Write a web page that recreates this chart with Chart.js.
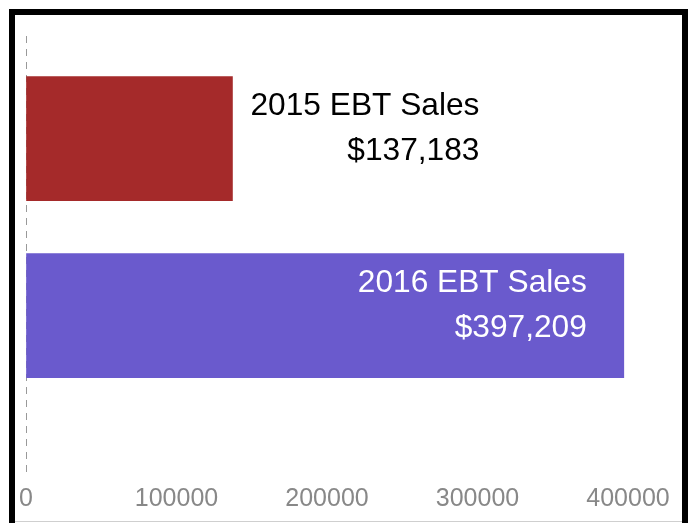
<!DOCTYPE html>
<html>
<head>
<meta charset="utf-8">
<script src="https://cdn.jsdelivr.net/npm/chart.js@4"></script>
<style>
  html, body { margin: 0; padding: 0; background: #fff; overflow: hidden; }
  #frame {
    position: absolute; left: 9px; top: 9px;
    width: 667px; height: 600px;
    border: 6px solid #000;
  }
  #wrap {
    position: relative; width: 667px; height: 506px;
    border-bottom: 1px solid #cfcfcf;
  }
</style>
</head>
<body>
<div id="frame">
  <div id="wrap"><canvas id="chart"></canvas></div>
</div>
<script>
/* EBT sales, 2015 vs 2016 */

const labels = ['2015 EBT Sales', '2016 EBT Sales'];
const sales  = [137183, 397209];
const colors = ['#a52a2a', '#6a5acd'];
const xTicks = [0, 100000, 200000, 300000, 400000];

const FONT = "'Liberation Sans', Arial, sans-serif";

// writes the name + amount next to (or inside) each bar
const barLabels = {
  id: 'barLabels',
  afterDatasetsDraw(chart) {
    const ctx = chart.ctx;
    const meta = chart.getDatasetMeta(0);
    ctx.save();
    ctx.font = '31.7px ' + FONT;
    ctx.textAlign = 'right';
    ctx.textBaseline = 'alphabetic';
    meta.data.forEach((bar, i) => {
      const lines = [labels[i], '$' + sales[i].toLocaleString('en-US')];
      const w = Math.max(...lines.map(l => ctx.measureText(l).width));
      const barW = bar.x - bar.base;
      let right;
      if (barW > w + 50) {
        right = bar.x - 37;
        ctx.fillStyle = '#fff';
      } else {
        right = bar.x + 18 + w;
        ctx.fillStyle = '#000';
      }
      ctx.fillText(lines[0], right, bar.y - 23.5);
      ctx.fillText(lines[1], right, bar.y + 21.5);
    });
    ctx.restore();
  }
};

new Chart(document.getElementById('chart'), {
  type: 'bar',
  data: {
    datasets: [{
      data: sales.map((v, i) => ({ x: v, y: i + 1 })),
      backgroundColor: colors,
      borderWidth: 0,
      barThickness: 124
    }]
  },
  options: {
    indexAxis: 'y',
    responsive: true,
    maintainAspectRatio: false,
    animation: false,
    layout: { padding: { left: 11, right: 54, top: 21, bottom: 0 } },
    plugins: { legend: { display: false }, tooltip: { enabled: false } },
    scales: {
      x: {
        type: 'linear',
        min: 0,
        max: 400000,
        afterBuildTicks: axis => { axis.ticks = xTicks.map(v => ({ value: v })); },
        afterFit: axis => {
          axis.paddingLeft = 0;
          axis.paddingRight = 0;
          axis.height = 46;
        },
        border: { display: false, dash: [7, 6] },
        grid: {
          drawTicks: false,
          color: c => c.tick && c.tick.value === 0 ? '#999' : 'transparent'
        },
        ticks: {
          padding: 12,
          color: '#888',
          font: { family: FONT, size: 25, lineHeight: 1 },
          callback: v => String(v),
          maxRotation: 0
        }
      },
      y: {
        type: 'linear',
        reverse: true,
        offset: false,
        grid: { offset: false },
        min: 0.42,
        max: 2.9,
        display: false
      }
    }
  },
  plugins: [barLabels]
});
</script>
</body>
</html>
